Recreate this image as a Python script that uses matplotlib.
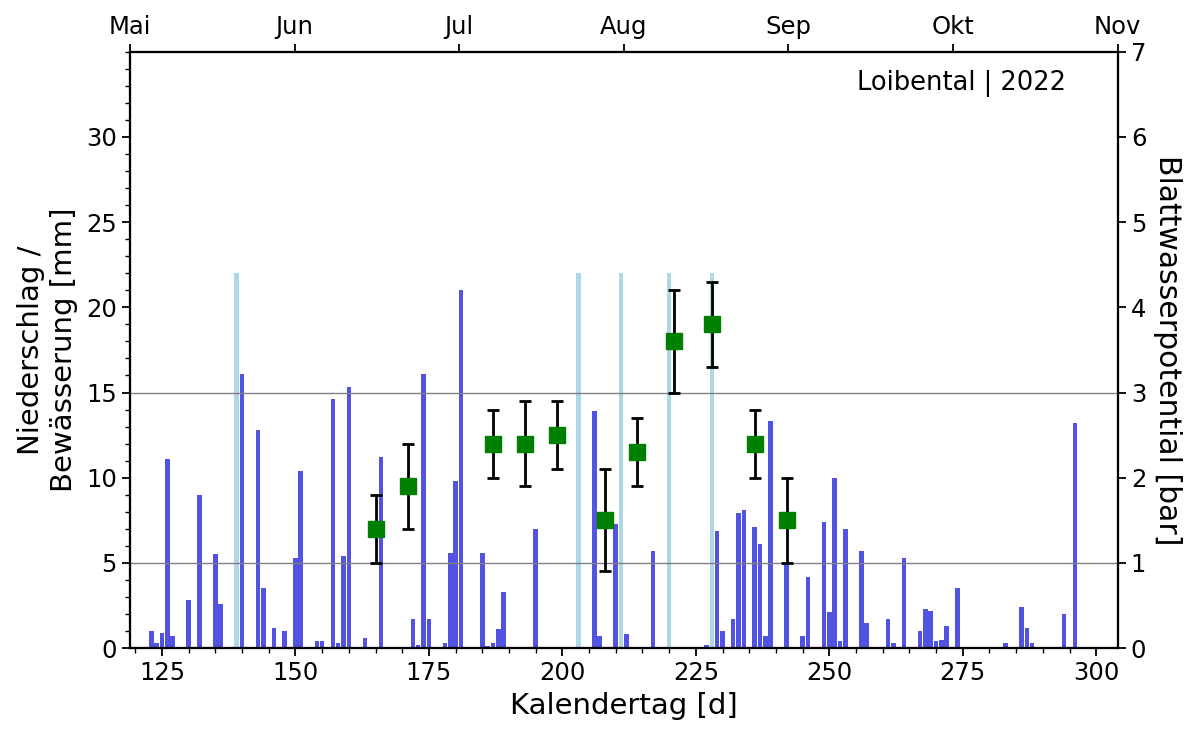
import numpy as np
import matplotlib
matplotlib.use("Agg")
import matplotlib.pyplot as plt
from matplotlib.ticker import MultipleLocator

# ------------------------------------------------------------------ #
#  Data
# ------------------------------------------------------------------ #
rain_days = [123, 124, 125, 126, 127, 130, 132, 135, 136, 140, 143, 144, 146,
             148, 149, 150, 151, 152, 154, 155, 156, 157, 158, 159, 160, 163,
             164, 166, 170, 172, 173, 174, 175, 178, 179, 180, 181, 182, 185,
             186, 187, 188, 189, 195, 206, 207, 210, 212, 217, 227, 229, 230,
             232, 233, 234, 236, 237, 238, 239, 242, 243, 245, 246, 249, 250,
             251, 252, 253, 256, 257, 261, 262, 264, 267, 268, 269, 270, 271,
             272, 274, 275, 283, 286, 287, 288, 294, 295, 296, 297, 300, 303]
rain_mm = [1.0, 0.3, 0.9, 11.1, 0.7, 2.8, 9.0, 5.5, 2.6, 16.1, 12.8, 3.5, 1.2,
           1.0, 0.05, 5.3, 10.4, 0.05, 0.4, 0.4, 0.05, 14.6, 0.3, 5.4, 15.3, 0.6,
           0.05, 11.2, 0.05, 1.7, 0.2, 16.1, 1.7, 0.3, 5.6, 9.8, 21.0, 0.05, 5.6,
           0.15, 0.3, 1.1, 3.3, 7.0, 13.9, 0.7, 7.3, 0.8, 5.7, 0.2, 6.9, 1.0,
           1.7, 7.9, 8.1, 7.1, 6.1, 0.7, 13.3, 4.9, 0.05, 0.7, 4.2, 7.4, 2.1,
           10.0, 0.4, 7.0, 5.7, 1.5, 1.7, 0.3, 5.3, 1.0, 2.3, 2.2, 0.4, 0.5,
           1.3, 3.5, 0.05, 0.3, 2.4, 1.2, 0.3, 2.0, 0.05, 13.2, 0.05, 0.05, 0.05]

irrig_days = [139, 203, 211, 220, 228]
irrig_mm = [22, 22, 22, 22, 22]

psi_days = [165, 171, 187, 193, 199, 208, 214, 221, 228, 236, 242]
psi_bar = [1.4, 1.9, 2.4, 2.4, 2.5, 1.5, 2.3, 3.6, 3.8, 2.4, 1.5]
psi_err = [0.4, 0.5, 0.4, 0.5, 0.4, 0.6, 0.4, 0.6, 0.5, 0.4, 0.5]

months = ["Mai", "Jun", "Jul", "Aug", "Sep", "Okt", "Nov"]
thresholds_bar = [1, 3]

plt.rcParams["axes.linewidth"] = 1.5
plt.rcParams["font.size"] = 17

fig, ax = plt.subplots(figsize=(12.03, 7.29), dpi=100)
fig.subplots_adjust(left=0.108, right=0.929, bottom=0.111, top=0.929)

# Precipitation and irrigation bars
ax.bar(irrig_days, irrig_mm, width=0.85, color="lightblue", zorder=1)
ax.bar(rain_days, rain_mm, width=0.85, color="#5353e3", zorder=2)

ax.set_xlim(119, 304)
ax.set_ylim(0, 35)
ax.set_yticks(np.arange(0, 31, 5))
ax.yaxis.set_minor_locator(MultipleLocator(1))
ax.xaxis.set_major_locator(MultipleLocator(25))
ax.xaxis.set_minor_locator(MultipleLocator(5))
ax.tick_params(which="major", length=6, width=1.3, labelsize=17.5)
ax.tick_params(which="minor", length=3.5, width=1.0)
ax.set_xlabel("Kalendertag [d]", fontsize=21, labelpad=5)
ax.set_ylabel("Niederschlag /\nBewässerung [mm]", fontsize=21, labelpad=6)

# Leaf water potential on the right axis
ax2 = ax.twinx()
ax2.set_ylim(0, 7)
ax2.set_yticks(np.arange(0, 8, 1))
for t in thresholds_bar:
    ax2.axhline(t, color="gray", lw=1.0, zorder=0)
ax2.errorbar(psi_days, psi_bar, yerr=psi_err, fmt="s", color="green",
             markersize=12, ecolor="black", elinewidth=2, capsize=4,
             capthick=2, zorder=5)
ax2.tick_params(which="major", length=6, width=1.3, labelsize=17.5)
ax2.set_ylabel("Blattwasserpotential [bar]", fontsize=21.5, rotation=270,
               labelpad=26)

# Month axis on top
ax3 = ax.twiny()
ax3.set_xlim(0, len(months) - 1)
ax3.set_xticks(range(len(months)))
ax3.set_xticklabels(months)
ax3.tick_params(which="major", length=6, width=1.3, labelsize=17.5, pad=3)

ax.text(0.948, 0.946, "Loibental | 2022", transform=ax.transAxes,
        ha="right", va="center", fontsize=18.5)

fig.savefig("out.png", dpi=100)
